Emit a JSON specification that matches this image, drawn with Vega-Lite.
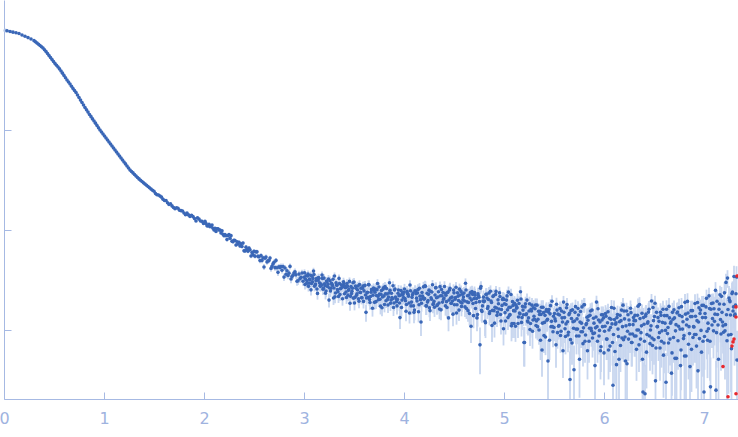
{
"$schema":"https://vega.github.io/schema/vega-lite/v6.json",
"width":734,"height":399,"autosize":"none",
"padding":{"left":4,"top":0,"right":0,"bottom":38},
"config":{"view":{"stroke":null},"axis":{"grid":false,"domainColor":"#a6b9e3","tickColor":"#a6b9e3","labelColor":"#9fb3df","labelFont":"DejaVu Sans","labelFontSize":16,"tickSize":-7}},
"datasets":{
"d":[
{"q":0.03,"i":982,"e":4},{"q":0.06,"i":966,"e":4},{"q":0.09,"i":951,"e":4},{"q":0.12,"i":938,"e":4},{"q":0.15,"i":923,"e":4},{"q":0.18,"i":891,"e":4},{"q":0.21,"i":865,"e":3},{"q":0.24,"i":839,"e":3},{"q":0.27,"i":813,"e":3},{"q":0.30,"i":782,"e":3},
{"q":0.315,"i":761,"e":3},{"q":0.33,"i":741,"e":3},{"q":0.345,"i":720,"e":3},{"q":0.36,"i":700,"e":3},{"q":0.375,"i":680,"e":3},{"q":0.39,"i":661,"e":3},{"q":0.405,"i":635,"e":3},{"q":0.42,"i":610,"e":2},{"q":0.435,"i":582,"e":2},{"q":0.45,"i":556,"e":2},
{"q":0.465,"i":531,"e":2},{"q":0.48,"i":507,"e":2},{"q":0.495,"i":484,"e":2},{"q":0.51,"i":462,"e":2},{"q":0.525,"i":444,"e":2},{"q":0.54,"i":427,"e":2},{"q":0.555,"i":408,"e":2},{"q":0.57,"i":389,"e":2},{"q":0.585,"i":370,"e":1.5},{"q":0.60,"i":351,"e":1.4},
{"q":0.615,"i":333,"e":1.3},{"q":0.63,"i":316,"e":1.3},{"q":0.645,"i":302,"e":1.2},{"q":0.66,"i":288,"e":1.2},{"q":0.675,"i":274,"e":1.1},{"q":0.69,"i":260,"e":1},{"q":0.705,"i":248,"e":1},{"q":0.72,"i":237,"e":1},{"q":0.735,"i":224,"e":0.9},{"q":0.75,"i":211,"e":0.8},
{"q":0.765,"i":199,"e":0.8},{"q":0.78,"i":188,"e":0.8},{"q":0.795,"i":178,"e":0.7},{"q":0.81,"i":168,"e":0.7},{"q":0.825,"i":159,"e":0.6},{"q":0.84,"i":151,"e":0.6},{"q":0.855,"i":143,"e":0.6},{"q":0.87,"i":136,"e":0.5},{"q":0.885,"i":129,"e":0.5},{"q":0.90,"i":123,"e":0.5},
{"q":0.915,"i":117,"e":0.5},{"q":0.93,"i":111,"e":0.4},{"q":0.945,"i":105,"e":0.4},{"q":0.96,"i":100,"e":0.4},{"q":0.975,"i":95.5,"e":0.4},{"q":0.99,"i":91.2,"e":0.4},{"q":1.005,"i":87.1,"e":0.9},{"q":1.02,"i":83.2,"e":0.8},{"q":1.035,"i":79.5,"e":0.8},{"q":1.05,"i":75.9,"e":0.8},
{"q":1.065,"i":72.5,"e":0.7},{"q":1.08,"i":69.2,"e":0.7},{"q":1.095,"i":66.1,"e":0.7},{"q":1.11,"i":63.1,"e":0.6},{"q":1.125,"i":60.2,"e":0.6},{"q":1.14,"i":57.5,"e":0.6},{"q":1.155,"i":54.9,"e":0.5},{"q":1.17,"i":52.5,"e":0.5},{"q":1.185,"i":50.1,"e":0.5},{"q":1.20,"i":47.9,"e":0.5},
{"q":1.215,"i":45.8,"e":0.5},{"q":1.23,"i":43.7,"e":0.4},{"q":1.245,"i":41.7,"e":0.4},{"q":1.26,"i":39.8,"e":0.4},{"q":1.275,"i":38.5,"e":0.4},{"q":1.29,"i":37.2,"e":0.4},{"q":1.305,"i":35.9,"e":0.4},{"q":1.32,"i":34.7,"e":0.3},{"q":1.335,"i":33.5,"e":0.3},{"q":1.35,"i":32.4,"e":0.3},
{"q":1.365,"i":31.4,"e":0.3},{"q":1.38,"i":30.5,"e":0.3},{"q":1.395,"i":29.6,"e":0.3},{"q":1.41,"i":28.8,"e":0.3},{"q":1.425,"i":28.0,"e":0.3},{"q":1.44,"i":27.2,"e":0.3},{"q":1.455,"i":26.4,"e":0.3},{"q":1.47,"i":25.7,"e":0.3},{"q":1.485,"i":25.0,"e":0.3},
{"q":1.50,"i":24.4,"e":0.5},{"q":1.53,"i":22.5,"e":0.45},{"q":1.56,"i":21.9,"e":0.44},{"q":1.59,"i":20.3,"e":0.4},{"q":1.62,"i":19.7,"e":0.4},{"q":1.65,"i":18.0,"e":0.36},{"q":1.68,"i":17.4,"e":0.35},{"q":1.71,"i":16.3,"e":0.33},{"q":1.74,"i":16.5,"e":0.33},{"q":1.77,"i":15.6,"e":0.31},
{"q":1.80,"i":14.8,"e":0.3},{"q":1.83,"i":14.8,"e":0.3},{"q":1.86,"i":13.65,"e":0.27},{"q":1.89,"i":13.6,"e":0.27},{"q":1.92,"i":12.3,"e":0.25},{"q":1.95,"i":12.85,"e":0.26},{"q":1.98,"i":12.2,"e":0.24},
{"q":1.515,"i":23.1,"e":0.46},{"q":1.545,"i":22.4,"e":0.45},{"q":1.575,"i":21.3,"e":0.42},{"q":1.605,"i":19.7,"e":0.4},{"q":1.635,"i":18.7,"e":0.37},{"q":1.665,"i":18.3,"e":0.36},{"q":1.695,"i":16.8,"e":0.34},{"q":1.725,"i":16.7,"e":0.33},{"q":1.755,"i":15.75,"e":0.32},{"q":1.785,"i":15.5,"e":0.31},
{"q":1.815,"i":14.2,"e":0.3},{"q":1.845,"i":14.15,"e":0.3},{"q":1.875,"i":14.0,"e":0.28},{"q":1.905,"i":13.0,"e":0.27},{"q":1.935,"i":13.2,"e":0.26},{"q":1.965,"i":12.3,"e":0.25},{"q":1.995,"i":11.6,"e":0.25},
{"q":2.01,"i":12.2,"e":0.3},{"q":2.04,"i":11.0,"e":0.3},{"q":2.07,"i":10.9,"e":0.3},{"q":2.10,"i":9.99,"e":0.3},{"q":2.13,"i":10.3,"e":0.3},{"q":2.16,"i":10.0,"e":0.3},{"q":2.19,"i":9.04,"e":0.3},{"q":2.22,"i":8.75,"e":0.3},{"q":2.25,"i":9.0,"e":0.3},{"q":2.28,"i":7.73,"e":0.3},
{"q":2.31,"i":7.86,"e":0.3},{"q":2.34,"i":7.23,"e":0.3},{"q":2.37,"i":7.29,"e":0.3},{"q":2.40,"i":6.20,"e":0.3},{"q":2.43,"i":6.38,"e":0.3},{"q":2.46,"i":6.35,"e":0.3},{"q":2.49,"i":5.65,"e":0.3},{"q":2.52,"i":6.04,"e":0.3},{"q":2.55,"i":5.40,"e":0.3},{"q":2.58,"i":4.96,"e":0.3},
{"q":2.61,"i":5.21,"e":0.3},{"q":2.64,"i":4.92,"e":0.3},{"q":2.67,"i":4.13,"e":0.3},{"q":2.70,"i":4.76,"e":0.3},{"q":2.73,"i":4.19,"e":0.3},{"q":2.76,"i":4.22,"e":0.3},{"q":2.79,"i":4.31,"e":0.3},{"q":2.82,"i":3.61,"e":0.3},{"q":2.85,"i":3.70,"e":0.3},{"q":2.88,"i":3.42,"e":0.3},
{"q":2.91,"i":3.81,"e":0.3},{"q":2.94,"i":3.11,"e":0.3},{"q":2.97,"i":3.36,"e":0.3},
{"q":2.02,"i":11.6,"e":0.3},{"q":2.03,"i":11.0,"e":0.3},{"q":2.05,"i":11.4,"e":0.3},{"q":2.06,"i":10.8,"e":0.3},{"q":2.08,"i":11.2,"e":0.3},{"q":2.09,"i":10.4,"e":0.3},{"q":2.11,"i":10.4,"e":0.3},{"q":2.12,"i":9.65,"e":0.3},{"q":2.14,"i":10.3,"e":0.3},{"q":2.15,"i":10.0,"e":0.3},
{"q":2.17,"i":9.35,"e":0.3},{"q":2.18,"i":9.80,"e":0.3},{"q":2.20,"i":8.77,"e":0.3},{"q":2.21,"i":9.01,"e":0.3},{"q":2.23,"i":8.01,"e":0.3},{"q":2.24,"i":8.78,"e":0.3},{"q":2.26,"i":8.25,"e":0.3},{"q":2.27,"i":8.78,"e":0.3},{"q":2.29,"i":7.63,"e":0.3},{"q":2.30,"i":7.90,"e":0.3},
{"q":2.32,"i":7.08,"e":0.3},{"q":2.33,"i":7.61,"e":0.3},{"q":2.35,"i":7.54,"e":0.3},{"q":2.36,"i":6.92,"e":0.3},{"q":2.38,"i":6.83,"e":0.3},{"q":2.39,"i":7.39,"e":0.3},{"q":2.41,"i":6.18,"e":0.3},{"q":2.42,"i":6.73,"e":0.3},{"q":2.44,"i":6.14,"e":0.3},{"q":2.45,"i":6.60,"e":0.3},
{"q":2.47,"i":5.50,"e":0.3},{"q":2.48,"i":5.96,"e":0.3},{"q":2.50,"i":6.11,"e":0.3},{"q":2.51,"i":5.47,"e":0.3},{"q":2.53,"i":6.04,"e":0.3},{"q":2.54,"i":5.45,"e":0.3},{"q":2.56,"i":4.94,"e":0.3},{"q":2.57,"i":5.55,"e":0.3},{"q":2.59,"i":5.27,"e":0.3},{"q":2.60,"i":4.27,"e":0.3},
{"q":2.62,"i":5.37,"e":0.3},{"q":2.63,"i":4.78,"e":0.3},{"q":2.65,"i":4.94,"e":0.3},{"q":2.66,"i":5.23,"e":0.3},{"q":2.68,"i":4.32,"e":0.3},{"q":2.69,"i":4.58,"e":0.3},{"q":2.71,"i":4.20,"e":0.3},{"q":2.72,"i":4.96,"e":0.3},{"q":2.74,"i":3.77,"e":0.3},{"q":2.75,"i":4.28,"e":0.3},
{"q":2.77,"i":4.31,"e":0.3},{"q":2.78,"i":3.96,"e":0.3},{"q":2.80,"i":3.38,"e":0.3},{"q":2.81,"i":4.16,"e":0.3},{"q":2.83,"i":3.91,"e":0.3},{"q":2.84,"i":3.51,"e":0.3},{"q":2.86,"i":4.32,"e":0.3},{"q":2.87,"i":3.23,"e":0.3},{"q":2.89,"i":3.53,"e":0.3},{"q":2.90,"i":3.71,"e":0.3},
{"q":2.92,"i":3.56,"e":0.3},{"q":2.93,"i":3.07,"e":0.3},{"q":2.95,"i":3.62,"e":0.3},{"q":2.96,"i":3.25,"e":0.3},{"q":2.98,"i":3.71,"e":0.3},{"q":2.99,"i":3.07,"e":0.3},
{"q":3.00,"i":3.37,"e":0.31},{"q":3.01,"i":2.85,"e":0.31},{"q":3.02,"i":3.48,"e":0.31},{"q":3.03,"i":3.10,"e":0.31},{"q":3.04,"i":3.63,"e":0.31},{"q":3.05,"i":2.93,"e":0.31},{"q":3.06,"i":3.16,"e":0.31},{"q":3.07,"i":2.52,"e":0.31},{"q":3.08,"i":3.44,"e":0.31},{"q":3.09,"i":3.27,"e":0.31},
{"q":3.10,"i":3.59,"e":0.31},{"q":3.11,"i":2.80,"e":0.31},{"q":3.12,"i":3.12,"e":0.31},{"q":3.13,"i":2.57,"e":0.31},{"q":3.14,"i":3.15,"e":0.31},{"q":3.15,"i":3.29,"e":0.31},{"q":3.16,"i":2.77,"e":0.31},{"q":3.17,"i":2.88,"e":0.31},{"q":3.18,"i":3.54,"e":0.31},{"q":3.19,"i":2.55,"e":0.31},
{"q":3.20,"i":3.30,"e":0.31},{"q":3.21,"i":2.77,"e":0.31},{"q":3.22,"i":2.45,"e":0.31},{"q":3.23,"i":3.01,"e":0.31},{"q":3.24,"i":2.87,"e":0.31},{"q":3.25,"i":1.99,"e":0.31},{"q":3.26,"i":3.11,"e":0.31},{"q":3.27,"i":2.61,"e":0.31},{"q":3.28,"i":2.85,"e":0.31},{"q":3.29,"i":3.21,"e":0.31},
{"q":3.30,"i":2.63,"e":0.3},{"q":3.31,"i":2.15,"e":0.3},{"q":3.32,"i":2.96,"e":0.3},{"q":3.33,"i":2.80,"e":0.3},{"q":3.34,"i":2.41,"e":0.3},{"q":3.35,"i":3.28,"e":0.3},{"q":3.36,"i":2.26,"e":0.3},{"q":3.37,"i":2.61,"e":0.3},{"q":3.38,"i":2.80,"e":0.3},{"q":3.39,"i":2.70,"e":0.3},
{"q":3.40,"i":2.90,"e":0.29},{"q":3.41,"i":2.74,"e":0.29},{"q":3.42,"i":2.40,"e":0.29},{"q":3.43,"i":2.92,"e":0.29},{"q":3.44,"i":2.23,"e":0.29},{"q":3.45,"i":2.57,"e":0.29},{"q":3.46,"i":1.85,"e":0.29},{"q":3.47,"i":2.72,"e":0.29},{"q":3.48,"i":2.44,"e":0.29},{"q":3.49,"i":2.97,"e":0.29},
{"q":3.50,"i":3.02,"e":0.29},{"q":3.51,"i":2.12,"e":0.29},{"q":3.52,"i":2.62,"e":0.29},{"q":3.53,"i":2.30,"e":0.29},{"q":3.54,"i":2.75,"e":0.29},{"q":3.55,"i":1.94,"e":0.29},{"q":3.56,"i":2.38,"e":0.29},{"q":3.57,"i":2.62,"e":0.29},{"q":3.58,"i":2.10,"e":0.29},{"q":3.59,"i":2.75,"e":0.29},
{"q":3.60,"i":2.46,"e":0.29},{"q":3.61,"i":2.79,"e":0.29},{"q":3.62,"i":1.50,"e":0.29},{"q":3.63,"i":2.35,"e":0.29},{"q":3.64,"i":2.12,"e":0.29},{"q":3.65,"i":2.83,"e":0.29},{"q":3.66,"i":1.88,"e":0.29},{"q":3.67,"i":2.39,"e":0.29},{"q":3.68,"i":2.52,"e":0.29},{"q":3.69,"i":2.23,"e":0.29},
{"q":3.70,"i":2.49,"e":0.3},{"q":3.71,"i":2.39,"e":0.3},{"q":3.72,"i":1.92,"e":0.3},{"q":3.73,"i":2.53,"e":0.3},{"q":3.74,"i":2.17,"e":0.3},{"q":3.75,"i":2.69,"e":0.3},{"q":3.76,"i":2.03,"e":0.3},{"q":3.77,"i":2.27,"e":0.3},{"q":3.78,"i":1.67,"e":0.3},{"q":3.79,"i":2.55,"e":0.3},
{"q":3.80,"i":2.19,"e":0.3},{"q":3.81,"i":2.72,"e":0.3},{"q":3.82,"i":1.96,"e":0.3},{"q":3.83,"i":2.29,"e":0.3},{"q":3.84,"i":1.78,"e":0.3},{"q":3.85,"i":2.34,"e":0.3},{"q":3.86,"i":2.49,"e":0.3},{"q":3.87,"i":1.99,"e":0.3},{"q":3.88,"i":2.11,"e":0.3},{"q":3.89,"i":2.77,"e":0.3},
{"q":3.90,"i":1.86,"e":0.31},{"q":3.91,"i":2.57,"e":0.31},{"q":3.92,"i":2.05,"e":0.31},{"q":3.93,"i":1.74,"e":0.31},{"q":3.94,"i":2.33,"e":0.31},{"q":3.95,"i":2.20,"e":0.31},{"q":3.96,"i":1.33,"e":0.31},{"q":3.97,"i":2.48,"e":0.31},{"q":3.98,"i":1.99,"e":0.31},{"q":3.99,"i":2.26,"e":0.31},
{"q":4.00,"i":2.38,"e":0.32},{"q":4.01,"i":2.06,"e":0.32},{"q":4.02,"i":1.54,"e":0.32},{"q":4.03,"i":2.44,"e":0.32},{"q":4.04,"i":2.28,"e":0.32},{"q":4.05,"i":1.86,"e":0.32},{"q":4.06,"i":2.82,"e":0.32},{"q":4.07,"i":1.74,"e":0.32},{"q":4.08,"i":2.12,"e":0.32},{"q":4.09,"i":2.34,"e":0.32},
{"q":4.10,"i":1.50,"e":0.33},{"q":4.11,"i":2.47,"e":0.33},{"q":4.12,"i":2.30,"e":0.33},{"q":4.13,"i":1.95,"e":0.33},{"q":4.14,"i":2.53,"e":0.33},{"q":4.15,"i":1.79,"e":0.33},{"q":4.16,"i":2.18,"e":0.33},{"q":4.17,"i":1.20,"e":0.33},{"q":4.18,"i":2.37,"e":0.33},{"q":4.19,"i":2.08,"e":0.33},
{"q":4.20,"i":2.03,"e":0.33},{"q":4.21,"i":2.77,"e":0.33},{"q":4.22,"i":1.74,"e":0.33},{"q":4.23,"i":2.33,"e":0.33},{"q":4.24,"i":1.97,"e":0.33},{"q":4.25,"i":2.50,"e":0.33},{"q":4.26,"i":1.56,"e":0.33},{"q":4.27,"i":2.10,"e":0.33},{"q":4.28,"i":2.40,"e":0.33},{"q":4.29,"i":1.80,"e":0.33},
{"q":4.30,"i":1.93,"e":0.34},{"q":4.31,"i":2.24,"e":0.34},{"q":4.32,"i":2.65,"e":0.34},{"q":4.33,"i":1.76,"e":0.34},{"q":4.34,"i":2.14,"e":0.34},{"q":4.35,"i":1.86,"e":0.34},{"q":4.36,"i":2.71,"e":0.34},{"q":4.37,"i":1.59,"e":0.34},{"q":4.38,"i":2.20,"e":0.34},{"q":4.39,"i":2.37,"e":0.34},
{"q":4.40,"i":2.09,"e":0.35},{"q":4.41,"i":2.33,"e":0.35},{"q":4.42,"i":2.23,"e":0.35},{"q":4.43,"i":1.68,"e":0.35},{"q":4.44,"i":2.40,"e":0.35},{"q":4.45,"i":1.99,"e":0.35},{"q":4.46,"i":2.61,"e":0.35},{"q":4.47,"i":1.85,"e":0.35},{"q":4.48,"i":2.13,"e":0.35},{"q":4.49,"i":1.44,"e":0.35},
{"q":4.50,"i":2.35,"e":0.35},{"q":4.51,"i":2.03,"e":0.35},{"q":4.52,"i":2.67,"e":0.35},{"q":4.53,"i":1.79,"e":0.35},{"q":4.54,"i":2.18,"e":0.35},{"q":4.55,"i":1.58,"e":0.35},{"q":4.56,"i":2.24,"e":0.35},{"q":4.57,"i":2.43,"e":0.35},{"q":4.58,"i":1.86,"e":0.35},{"q":4.59,"i":2.00,"e":0.35},
{"q":4.60,"i":2.34,"e":0.35},{"q":4.61,"i":1.70,"e":0.35},{"q":4.62,"i":2.51,"e":0.35},{"q":4.63,"i":1.91,"e":0.35},{"q":4.64,"i":1.56,"e":0.35},{"q":4.65,"i":2.24,"e":0.35},{"q":4.66,"i":2.09,"e":0.35},{"q":4.67,"i":1.09,"e":0.35},{"q":4.68,"i":2.42,"e":0.35},{"q":4.69,"i":1.84,"e":0.35},
{"q":4.70,"i":2.06,"e":0.35},{"q":4.71,"i":2.23,"e":0.35},{"q":4.72,"i":1.88,"e":0.35},{"q":4.73,"i":1.32,"e":0.35},{"q":4.74,"i":2.30,"e":0.35},{"q":4.75,"i":2.13,"e":0.35},{"q":4.76,"i":0.71,"e":0.35},{"q":4.77,"i":2.72,"e":0.35},{"q":4.78,"i":1.53,"e":0.35},{"q":4.79,"i":1.95,"e":0.35},
{"q":4.80,"i":1.92,"e":0.35},{"q":4.81,"i":1.22,"e":0.35},{"q":4.82,"i":2.27,"e":0.35},{"q":4.83,"i":2.09,"e":0.35},{"q":4.84,"i":1.71,"e":0.35},{"q":4.85,"i":2.34,"e":0.35},{"q":4.86,"i":1.53,"e":0.35},{"q":4.87,"i":1.95,"e":0.35},{"q":4.88,"i":1.11,"e":0.35},{"q":4.89,"i":2.16,"e":0.35},
{"q":4.90,"i":1.56,"e":0.33},{"q":4.91,"i":1.69,"e":0.33},{"q":4.92,"i":2.43,"e":0.33},{"q":4.93,"i":1.40,"e":0.33},{"q":4.94,"i":2.00,"e":0.33},{"q":4.95,"i":1.62,"e":0.33},{"q":4.96,"i":2.16,"e":0.33},{"q":4.97,"i":1.23,"e":0.33},{"q":4.98,"i":1.76,"e":0.33},{"q":4.99,"i":2.07,"e":0.33},
{"q":5.00,"i":2.02,"e":0.33},{"q":5.01,"i":1.49,"e":0.33},{"q":5.02,"i":1.80,"e":0.33},{"q":5.03,"i":2.19,"e":0.33},{"q":5.04,"i":1.33,"e":0.33},{"q":5.05,"i":1.69,"e":0.33},{"q":5.06,"i":1.43,"e":0.33},{"q":5.07,"i":2.26,"e":0.33},{"q":5.08,"i":1.16,"e":0.33},{"q":5.09,"i":1.76,"e":0.33},
{"q":5.10,"i":1.16,"e":0.33},{"q":5.11,"i":1.55,"e":0.33},{"q":5.12,"i":1.77,"e":0.33},{"q":5.13,"i":1.68,"e":0.33},{"q":5.14,"i":1.16,"e":0.33},{"q":5.15,"i":1.84,"e":0.33},{"q":5.16,"i":1.45,"e":0.33},{"q":5.17,"i":2.04,"e":0.33},{"q":5.18,"i":1.33,"e":0.33},{"q":5.19,"i":1.58,"e":0.33},
{"q":5.20,"i":0.75,"e":0.32},{"q":5.21,"i":1.70,"e":0.32},{"q":5.22,"i":1.42,"e":0.32},{"q":5.23,"i":1.99,"e":0.32},{"q":5.24,"i":1.20,"e":0.32},{"q":5.25,"i":1.55,"e":0.32},{"q":5.26,"i":1.01,"e":0.32},{"q":5.27,"i":1.61,"e":0.32},{"q":5.28,"i":1.77,"e":0.32},{"q":5.29,"i":1.26,"e":0.32},
{"q":5.30,"i":1.37,"e":0.29},{"q":5.31,"i":1.63,"e":0.29},{"q":5.32,"i":1.11,"e":0.29},{"q":5.33,"i":1.77,"e":0.29},{"q":5.34,"i":1.28,"e":0.29},{"q":5.35,"i":1.00,"e":0.29},{"q":5.36,"i":1.54,"e":0.29},{"q":5.37,"i":1.43,"e":0.29},{"q":5.38,"i":0.63,"e":0.29},{"q":5.39,"i":1.69,"e":0.29},
{"q":5.40,"i":0.88,"e":0.29},{"q":5.41,"i":1.40,"e":0.29},{"q":5.42,"i":1.54,"e":0.29},{"q":5.43,"i":1.25,"e":0.29},{"q":5.44,"i":0.49,"e":0.29},{"q":5.45,"i":1.60,"e":0.29},{"q":5.46,"i":1.45,"e":0.29},{"q":5.47,"i":1.08,"e":0.29},{"q":5.48,"i":1.94,"e":0.29},{"q":5.49,"i":0.96,"e":0.29},
{"q":5.50,"i":1.06,"e":0.29},{"q":5.51,"i":1.29,"e":0.29},{"q":5.52,"i":0.71,"e":0.29},{"q":5.53,"i":1.58,"e":0.29},{"q":5.54,"i":1.44,"e":0.29},{"q":5.55,"i":1.11,"e":0.29},{"q":5.56,"i":1.64,"e":0.29},{"q":5.57,"i":0.97,"e":0.29},{"q":5.58,"i":1.32,"e":0.29},{"q":5.59,"i":0.62,"e":0.29},
{"q":5.60,"i":1.50,"e":0.29},{"q":5.61,"i":1.03,"e":0.29},{"q":5.62,"i":1.15,"e":0.29},{"q":5.63,"i":1.80,"e":0.29},{"q":5.64,"i":0.89,"e":0.29},{"q":5.65,"i":1.42,"e":0.29},{"q":5.66,"i":0.32,"e":0.29},{"q":5.67,"i":1.56,"e":0.29},{"q":5.68,"i":0.74,"e":0.29},{"q":5.69,"i":1.21,"e":0.29},
{"q":5.70,"i":0.40,"e":0.3},{"q":5.71,"i":1.50,"e":0.3},{"q":5.72,"i":1.02,"e":0.3},{"q":5.73,"i":1.29,"e":0.3},{"q":5.74,"i":1.64,"e":0.3},{"q":5.75,"i":0.87,"e":0.3},{"q":5.76,"i":1.20,"e":0.3},{"q":5.77,"i":0.96,"e":0.3},{"q":5.78,"i":1.70,"e":0.3},{"q":5.79,"i":0.73,"e":0.3},
{"q":5.80,"i":1.79,"e":0.3},{"q":5.81,"i":0.77,"e":0.3},{"q":5.82,"i":1.13,"e":0.3},{"q":5.83,"i":1.34,"e":0.3},{"q":5.84,"i":1.25,"e":0.3},{"q":5.85,"i":0.77,"e":0.3},{"q":5.86,"i":1.40,"e":0.3},{"q":5.87,"i":1.04,"e":0.3},{"q":5.88,"i":1.58,"e":0.3},{"q":5.89,"i":0.92,"e":0.3},
{"q":5.90,"i":1.17,"e":0.3},{"q":5.91,"i":0.44,"e":0.3},{"q":5.92,"i":1.35,"e":0.3},{"q":5.93,"i":1.08,"e":0.3},{"q":5.94,"i":1.63,"e":0.3},{"q":5.95,"i":0.87,"e":0.3},{"q":5.96,"i":1.20,"e":0.3},{"q":5.97,"i":0.68,"e":0.3},{"q":5.98,"i":1.26,"e":0.3},{"q":5.99,"i":1.42,"e":0.3},
{"q":6.00,"i":0.59,"e":0.31},{"q":6.01,"i":1.09,"e":0.31},{"q":6.02,"i":1.37,"e":0.31},{"q":6.03,"i":0.81,"e":0.31},{"q":6.04,"i":1.52,"e":0.31},{"q":6.05,"i":1.00,"e":0.31},{"q":6.06,"i":0.69,"e":0.31},{"q":6.07,"i":1.28,"e":0.31},{"q":6.08,"i":1.15,"e":0.31},{"q":6.09,"i":0.28,"e":0.27},
{"q":6.10,"i":1.65,"e":0.32},{"q":6.11,"i":0.61,"e":0.32},{"q":6.12,"i":1.18,"e":0.32},{"q":6.13,"i":1.33,"e":0.32},{"q":6.14,"i":1.02,"e":0.32},{"q":6.15,"i":0.51,"e":0.32},{"q":6.16,"i":1.40,"e":0.32},{"q":6.17,"i":1.24,"e":0.32},{"q":6.18,"i":0.83,"e":0.32},{"q":6.19,"i":1.77,"e":0.32},
{"q":6.20,"i":1.55,"e":0.32},{"q":6.21,"i":0.85,"e":0.32},{"q":6.22,"i":1.10,"e":0.32},{"q":6.23,"i":0.46,"e":0.32},{"q":6.24,"i":1.42,"e":0.32},{"q":6.25,"i":1.26,"e":0.32},{"q":6.26,"i":0.91,"e":0.32},{"q":6.27,"i":1.49,"e":0.32},{"q":6.28,"i":0.75,"e":0.32},{"q":6.29,"i":1.13,"e":0.32},
{"q":6.30,"i":1.24,"e":0.33},{"q":6.31,"i":1.40,"e":0.33},{"q":6.32,"i":0.87,"e":0.33},{"q":6.33,"i":1.00,"e":0.33},{"q":6.34,"i":1.73,"e":0.33},{"q":6.35,"i":0.71,"e":0.33},{"q":6.36,"i":1.30,"e":0.33},{"q":6.37,"i":0.94,"e":0.33},{"q":6.38,"i":1.47,"e":0.33},{"q":6.39,"i":0.24,"e":0.23},
{"q":6.40,"i":1.14,"e":0.34},{"q":6.41,"i":0.23,"e":0.22},{"q":6.42,"i":1.44,"e":0.34},{"q":6.43,"i":0.90,"e":0.34},{"q":6.44,"i":1.21,"e":0.34},{"q":6.45,"i":1.61,"e":0.34},{"q":6.46,"i":0.73,"e":0.34},{"q":6.47,"i":1.10,"e":0.34},{"q":6.48,"i":0.83,"e":0.34},{"q":6.49,"i":1.68,"e":0.34},
{"q":6.50,"i":0.80,"e":0.35},{"q":6.51,"i":1.85,"e":0.35},{"q":6.52,"i":0.66,"e":0.35},{"q":6.53,"i":1.08,"e":0.35},{"q":6.54,"i":1.33,"e":0.35},{"q":6.55,"i":1.22,"e":0.35},{"q":6.56,"i":0.66,"e":0.35},{"q":6.57,"i":1.40,"e":0.35},{"q":6.58,"i":0.98,"e":0.35},{"q":6.59,"i":1.61,"e":0.35},
{"q":6.60,"i":0.74,"e":0.37},{"q":6.61,"i":1.17,"e":0.37},{"q":6.62,"i":0.30,"e":0.29},{"q":6.63,"i":1.39,"e":0.37},{"q":6.64,"i":1.06,"e":0.37},{"q":6.65,"i":1.72,"e":0.37},{"q":6.66,"i":0.81,"e":0.37},{"q":6.67,"i":1.21,"e":0.37},{"q":6.68,"i":0.59,"e":0.37},{"q":6.69,"i":1.28,"e":0.37},
{"q":6.70,"i":1.59,"e":0.38},{"q":6.71,"i":0.52,"e":0.38},{"q":6.72,"i":1.13,"e":0.38},{"q":6.73,"i":1.48,"e":0.38},{"q":6.74,"i":0.78,"e":0.38},{"q":6.75,"i":1.67,"e":0.38},{"q":6.76,"i":1.02,"e":0.38},{"q":6.77,"i":0.63,"e":0.38},{"q":6.78,"i":1.36,"e":0.38},{"q":6.79,"i":1.21,"e":0.38},
{"q":6.80,"i":0.88,"e":0.4},{"q":6.81,"i":1.89,"e":0.4},{"q":6.82,"i":0.55,"e":0.4},{"q":6.83,"i":1.28,"e":0.4},{"q":6.84,"i":1.48,"e":0.4},{"q":6.85,"i":1.08,"e":0.4},{"q":6.86,"i":0.43,"e":0.4},{"q":6.87,"i":1.56,"e":0.4},{"q":6.88,"i":1.36,"e":0.4},{"q":6.89,"i":0.84,"e":0.4},
{"q":6.90,"i":1.07,"e":0.43},{"q":6.91,"i":1.84,"e":0.43},{"q":6.92,"i":0.90,"e":0.43},{"q":6.93,"i":1.24,"e":0.43},{"q":6.94,"i":0.39,"e":0.37},{"q":6.95,"i":1.67,"e":0.43},{"q":6.96,"i":1.46,"e":0.43},{"q":6.97,"i":0.99,"e":0.43},{"q":6.98,"i":1.76,"e":0.43},{"q":6.99,"i":0.77,"e":0.43},
{"q":7.00,"i":0.24,"e":0.23},{"q":7.01,"i":1.46,"e":0.46},{"q":7.02,"i":1.70,"e":0.46},{"q":7.03,"i":0.97,"e":0.46},{"q":7.04,"i":1.17,"e":0.46},{"q":7.05,"i":2.19,"e":0.46},{"q":7.06,"i":0.77,"e":0.46},{"q":7.07,"i":1.61,"e":0.46},{"q":7.08,"i":1.12,"e":0.46},{"q":7.09,"i":1.86,"e":0.46},
{"q":7.10,"i":1.63,"e":0.52},{"q":7.11,"i":1.44,"e":0.52},{"q":7.12,"i":0.25,"e":0.24},{"q":7.13,"i":1.94,"e":0.52},{"q":7.14,"i":1.12,"e":0.52},{"q":7.15,"i":1.61,"e":0.52},{"q":7.16,"i":2.25,"e":0.52},{"q":7.17,"i":0.91,"e":0.52},{"q":7.18,"i":1.50,"e":0.52},{"q":7.19,"i":1.10,"e":0.52},
{"q":7.20,"i":1.81,"e":0.66},{"q":7.21,"i":0.98,"e":0.66},{"q":7.22,"i":2.99,"e":0.66},{"q":7.23,"i":0.78,"e":0.66},{"q":7.24,"i":1.60,"e":0.66},{"q":7.25,"i":2.09,"e":0.66},{"q":7.26,"i":1.92,"e":0.66},{"q":7.27,"i":0.90,"e":0.66},{"q":7.28,"i":2.31,"e":0.66},{"q":7.29,"i":1.55,"e":0.66},
{"q":7.30,"i":3.43,"e":0.95},{"q":7.31,"i":1.44,"e":0.95},{"q":7.32,"i":2.30,"e":0.95},{"q":7.33,"i":0.50,"e":0.48},
{"q":3.005,"i":3.73,"e":0.31},{"q":3.015,"i":3.21,"e":0.31},{"q":3.025,"i":2.92,"e":0.31},{"q":3.035,"i":3.46,"e":0.31},{"q":3.045,"i":2.73,"e":0.31},{"q":3.055,"i":3.23,"e":0.31},{"q":3.065,"i":3.53,"e":0.31},{"q":3.075,"i":2.92,"e":0.31},{"q":3.085,"i":3.03,"e":0.31},{"q":3.095,"i":3.88,"e":0.31},
{"q":3.105,"i":2.74,"e":0.31},{"q":3.115,"i":2.88,"e":0.31},{"q":3.125,"i":3.26,"e":0.31},{"q":3.135,"i":2.32,"e":0.31},{"q":3.145,"i":3.35,"e":0.31},{"q":3.155,"i":2.96,"e":0.31},{"q":3.165,"i":2.73,"e":0.31},{"q":3.175,"i":2.80,"e":0.31},{"q":3.185,"i":3.28,"e":0.31},{"q":3.195,"i":2.61,"e":0.31},
{"q":3.205,"i":2.90,"e":0.31},{"q":3.215,"i":2.33,"e":0.31},{"q":3.225,"i":3.08,"e":0.31},{"q":3.235,"i":2.72,"e":0.31},{"q":3.245,"i":3.23,"e":0.31},{"q":3.255,"i":2.63,"e":0.31},{"q":3.265,"i":2.45,"e":0.31},{"q":3.275,"i":2.93,"e":0.31},{"q":3.285,"i":2.79,"e":0.31},{"q":3.295,"i":2.09,"e":0.31},
{"q":3.305,"i":3.46,"e":0.3},{"q":3.315,"i":2.34,"e":0.3},{"q":3.325,"i":2.81,"e":0.3},{"q":3.335,"i":2.53,"e":0.3},{"q":3.345,"i":2.16,"e":0.3},{"q":3.355,"i":2.92,"e":0.3},{"q":3.365,"i":2.58,"e":0.3},{"q":3.375,"i":2.81,"e":0.3},{"q":3.385,"i":2.05,"e":0.3},{"q":3.395,"i":3.03,"e":0.3},
{"q":3.405,"i":2.30,"e":0.29},{"q":3.415,"i":2.64,"e":0.29},{"q":3.425,"i":2.11,"e":0.29},{"q":3.435,"i":2.73,"e":0.29},{"q":3.445,"i":2.49,"e":0.29},{"q":3.455,"i":3.06,"e":0.29},{"q":3.465,"i":2.17,"e":0.29},{"q":3.475,"i":2.31,"e":0.29},{"q":3.485,"i":2.61,"e":0.29},{"q":3.495,"i":2.08,"e":0.29},
{"q":3.505,"i":1.86,"e":0.29},{"q":3.515,"i":2.75,"e":0.29},{"q":3.525,"i":2.22,"e":0.29},{"q":3.535,"i":2.52,"e":0.29},{"q":3.545,"i":2.05,"e":0.29},{"q":3.555,"i":2.85,"e":0.29},{"q":3.565,"i":2.37,"e":0.29},{"q":3.575,"i":2.10,"e":0.29},{"q":3.585,"i":2.61,"e":0.29},{"q":3.595,"i":1.93,"e":0.29},
{"q":3.605,"i":2.77,"e":0.29},{"q":3.615,"i":2.24,"e":0.29},{"q":3.625,"i":2.09,"e":0.29},{"q":3.635,"i":2.38,"e":0.29},{"q":3.645,"i":2.84,"e":0.29},{"q":3.655,"i":2.02,"e":0.29},{"q":3.665,"i":2.16,"e":0.29},{"q":3.675,"i":2.53,"e":0.29},{"q":3.685,"i":1.65,"e":0.29},{"q":3.695,"i":2.63,"e":0.29},
{"q":3.705,"i":1.89,"e":0.3},{"q":3.715,"i":2.57,"e":0.3},{"q":3.725,"i":2.21,"e":0.3},{"q":3.735,"i":2.92,"e":0.3},{"q":3.745,"i":2.01,"e":0.3},{"q":3.755,"i":2.28,"e":0.3},{"q":3.765,"i":1.73,"e":0.3},{"q":3.775,"i":2.48,"e":0.3},{"q":3.785,"i":2.14,"e":0.3},{"q":3.795,"i":2.64,"e":0.3},
{"q":3.805,"i":1.80,"e":0.3},{"q":3.815,"i":2.30,"e":0.3},{"q":3.825,"i":2.60,"e":0.3},{"q":3.835,"i":2.02,"e":0.3},{"q":3.845,"i":2.13,"e":0.3},{"q":3.855,"i":2.97,"e":0.3},{"q":3.865,"i":1.85,"e":0.3},{"q":3.875,"i":2.33,"e":0.3},{"q":3.885,"i":2.05,"e":0.3},{"q":3.895,"i":1.68,"e":0.3},
{"q":3.905,"i":2.51,"e":0.31},{"q":3.915,"i":2.14,"e":0.31},{"q":3.925,"i":1.92,"e":0.31},{"q":3.935,"i":2.02,"e":0.31},{"q":3.945,"i":2.51,"e":0.31},{"q":3.955,"i":1.86,"e":0.31},{"q":3.965,"i":2.23,"e":0.31},{"q":3.975,"i":1.68,"e":0.31},{"q":3.985,"i":2.36,"e":0.31},{"q":3.995,"i":2.11,"e":0.31},
{"q":4.005,"i":2.57,"e":0.32},{"q":4.015,"i":1.96,"e":0.32},{"q":4.025,"i":1.80,"e":0.32},{"q":4.035,"i":2.31,"e":0.32},{"q":4.045,"i":2.18,"e":0.32},{"q":4.055,"i":1.48,"e":0.32},{"q":4.065,"i":2.47,"e":0.32},{"q":4.075,"i":1.90,"e":0.32},{"q":4.085,"i":2.25,"e":0.32},{"q":4.095,"i":1.74,"e":0.32},
{"q":4.105,"i":1.58,"e":0.33},{"q":4.115,"i":2.44,"e":0.33},{"q":4.125,"i":2.08,"e":0.33},{"q":4.135,"i":2.34,"e":0.33},{"q":4.145,"i":1.52,"e":0.33},{"q":4.155,"i":2.61,"e":0.33},{"q":4.165,"i":2.01,"e":0.33},{"q":4.175,"i":1.85,"e":0.33},{"q":4.185,"i":2.18,"e":0.33},{"q":4.195,"i":2.70,"e":0.33},
{"q":4.205,"i":2.07,"e":0.33},{"q":4.215,"i":2.73,"e":0.33},{"q":4.225,"i":1.74,"e":0.33},{"q":4.235,"i":1.90,"e":0.33},{"q":4.245,"i":2.27,"e":0.33},{"q":4.255,"i":1.67,"e":0.33},{"q":4.265,"i":2.43,"e":0.33},{"q":4.275,"i":2.03,"e":0.33},{"q":4.285,"i":2.83,"e":0.33},{"q":4.295,"i":1.84,"e":0.33},
{"q":4.305,"i":1.69,"e":0.34},{"q":4.315,"i":2.64,"e":0.34},{"q":4.325,"i":2.10,"e":0.34},{"q":4.335,"i":1.79,"e":0.34},{"q":4.345,"i":2.41,"e":0.34},{"q":4.355,"i":1.62,"e":0.34},{"q":4.365,"i":2.20,"e":0.34},{"q":4.375,"i":2.54,"e":0.34},{"q":4.385,"i":1.90,"e":0.34},{"q":4.395,"i":2.03,"e":0.34},
{"q":4.405,"i":2.72,"e":0.35},{"q":4.415,"i":1.74,"e":0.35},{"q":4.425,"i":1.92,"e":0.35},{"q":4.435,"i":2.37,"e":0.35},{"q":4.445,"i":1.32,"e":0.35},{"q":4.455,"i":2.51,"e":0.35},{"q":4.465,"i":2.09,"e":0.35},{"q":4.475,"i":1.85,"e":0.35},{"q":4.485,"i":1.95,"e":0.35},{"q":4.495,"i":2.51,"e":0.35},
{"q":4.505,"i":1.79,"e":0.35},{"q":4.515,"i":2.11,"e":0.35},{"q":4.525,"i":1.48,"e":0.35},{"q":4.535,"i":2.35,"e":0.35},{"q":4.545,"i":1.97,"e":0.35},{"q":4.555,"i":2.56,"e":0.35},{"q":4.565,"i":1.90,"e":0.35},{"q":4.575,"i":1.72,"e":0.35},{"q":4.585,"i":2.28,"e":0.35},{"q":4.595,"i":2.14,"e":0.35},
{"q":4.605,"i":1.95,"e":0.35},{"q":4.615,"i":2.93,"e":0.35},{"q":4.625,"i":1.64,"e":0.35},{"q":4.635,"i":2.20,"e":0.35},{"q":4.645,"i":1.88,"e":0.35},{"q":4.655,"i":1.46,"e":0.35},{"q":4.665,"i":2.37,"e":0.35},{"q":4.675,"i":1.99,"e":0.35},{"q":4.685,"i":2.27,"e":0.35},{"q":4.695,"i":1.39,"e":0.35},
{"q":4.705,"i":2.37,"e":0.35},{"q":4.715,"i":1.64,"e":0.35},{"q":4.725,"i":2.06,"e":0.35},{"q":4.735,"i":1.43,"e":0.35},{"q":4.745,"i":2.20,"e":0.35},{"q":4.755,"i":1.92,"e":0.35},{"q":4.765,"i":2.62,"e":0.35},{"q":4.775,"i":1.57,"e":0.35},{"q":4.785,"i":1.74,"e":0.35},{"q":4.795,"i":2.13,"e":0.35},
{"q":4.805,"i":1.95,"e":0.35},{"q":4.815,"i":1.18,"e":0.35},{"q":4.825,"i":2.27,"e":0.35},{"q":4.835,"i":1.64,"e":0.35},{"q":4.845,"i":2.02,"e":0.35},{"q":4.855,"i":1.46,"e":0.35},{"q":4.865,"i":2.44,"e":0.35},{"q":4.875,"i":1.88,"e":0.35},{"q":4.885,"i":1.57,"e":0.35},{"q":4.895,"i":2.20,"e":0.35},
{"q":4.905,"i":1.17,"e":0.33},{"q":4.915,"i":2.26,"e":0.33},{"q":4.925,"i":1.66,"e":0.33},{"q":4.935,"i":1.50,"e":0.33},{"q":4.945,"i":1.83,"e":0.33},{"q":4.955,"i":2.35,"e":0.33},{"q":4.965,"i":1.43,"e":0.33},{"q":4.975,"i":1.60,"e":0.33},{"q":4.985,"i":2.02,"e":0.33},{"q":4.995,"i":1.03,"e":0.33},
{"q":5.005,"i":1.83,"e":0.33},{"q":5.015,"i":1.23,"e":0.33},{"q":5.025,"i":1.99,"e":0.33},{"q":5.035,"i":1.59,"e":0.33},{"q":5.045,"i":2.39,"e":0.33},{"q":5.055,"i":1.40,"e":0.33},{"q":5.065,"i":1.69,"e":0.33},{"q":5.075,"i":1.10,"e":0.33},{"q":5.085,"i":1.92,"e":0.33},{"q":5.095,"i":1.56,"e":0.33},
{"q":5.105,"i":1.85,"e":0.33},{"q":5.115,"i":1.09,"e":0.33},{"q":5.125,"i":1.65,"e":0.33},{"q":5.135,"i":1.98,"e":0.33},{"q":5.145,"i":1.35,"e":0.33},{"q":5.155,"i":1.48,"e":0.33},{"q":5.165,"i":2.41,"e":0.33},{"q":5.175,"i":1.19,"e":0.33},{"q":5.185,"i":1.72,"e":0.33},{"q":5.195,"i":1.42,"e":0.33},
{"q":5.205,"i":0.75,"e":0.32},{"q":5.215,"i":1.83,"e":0.32},{"q":5.225,"i":1.45,"e":0.32},{"q":5.235,"i":1.23,"e":0.32},{"q":5.245,"i":1.32,"e":0.32},{"q":5.255,"i":1.83,"e":0.32},{"q":5.265,"i":1.16,"e":0.32},{"q":5.275,"i":1.55,"e":0.32},{"q":5.285,"i":0.97,"e":0.32},{"q":5.295,"i":1.67,"e":0.32},
{"q":5.305,"i":1.28,"e":0.29},{"q":5.315,"i":1.78,"e":0.29},{"q":5.325,"i":1.23,"e":0.29},{"q":5.335,"i":1.08,"e":0.29},{"q":5.345,"i":1.54,"e":0.29},{"q":5.355,"i":1.43,"e":0.29},{"q":5.365,"i":0.79,"e":0.29},{"q":5.375,"i":1.69,"e":0.29},{"q":5.385,"i":1.17,"e":0.29},{"q":5.395,"i":1.49,"e":0.29},
{"q":5.405,"i":1.19,"e":0.29},{"q":5.415,"i":0.85,"e":0.29},{"q":5.425,"i":1.60,"e":0.29},{"q":5.435,"i":1.28,"e":0.29},{"q":5.445,"i":1.51,"e":0.29},{"q":5.455,"i":0.79,"e":0.29},{"q":5.465,"i":1.75,"e":0.29},{"q":5.475,"i":1.22,"e":0.29},{"q":5.485,"i":1.08,"e":0.29},{"q":5.495,"i":1.37,"e":0.29},
{"q":5.505,"i":1.46,"e":0.29},{"q":5.515,"i":1.23,"e":0.29},{"q":5.525,"i":1.81,"e":0.29},{"q":5.535,"i":0.94,"e":0.29},{"q":5.545,"i":1.09,"e":0.29},{"q":5.555,"i":1.41,"e":0.29},{"q":5.565,"i":0.88,"e":0.29},{"q":5.575,"i":1.55,"e":0.29},{"q":5.585,"i":1.20,"e":0.29},{"q":5.595,"i":1.90,"e":0.29},
{"q":5.605,"i":1.33,"e":0.29},{"q":5.615,"i":0.86,"e":0.29},{"q":5.625,"i":1.67,"e":0.29},{"q":5.635,"i":1.21,"e":0.29},{"q":5.645,"i":0.95,"e":0.29},{"q":5.655,"i":1.47,"e":0.29},{"q":5.665,"i":0.80,"e":0.29},{"q":5.675,"i":1.30,"e":0.29},{"q":5.685,"i":1.59,"e":0.29},{"q":5.695,"i":1.04,"e":0.29},
{"q":5.705,"i":1.23,"e":0.3},{"q":5.715,"i":1.71,"e":0.3},{"q":5.725,"i":0.87,"e":0.3},{"q":5.735,"i":1.02,"e":0.3},{"q":5.745,"i":1.41,"e":0.3},{"q":5.755,"i":0.51,"e":0.3},{"q":5.765,"i":1.53,"e":0.3},{"q":5.775,"i":1.17,"e":0.3},{"q":5.785,"i":0.96,"e":0.3},{"q":5.795,"i":1.05,"e":0.3},
{"q":5.805,"i":1.79,"e":0.3},{"q":5.815,"i":0.89,"e":0.3},{"q":5.825,"i":1.16,"e":0.3},{"q":5.835,"i":0.62,"e":0.3},{"q":5.845,"i":1.37,"e":0.3},{"q":5.855,"i":1.04,"e":0.3},{"q":5.865,"i":1.55,"e":0.3},{"q":5.875,"i":0.98,"e":0.3},{"q":5.885,"i":0.83,"e":0.3},{"q":5.895,"i":1.31,"e":0.3},
{"q":5.905,"i":0.93,"e":0.3},{"q":5.915,"i":1.05,"e":0.3},{"q":5.925,"i":1.90,"e":0.3},{"q":5.935,"i":0.77,"e":0.3},{"q":5.945,"i":1.26,"e":0.3},{"q":5.955,"i":0.99,"e":0.3},{"q":5.965,"i":0.62,"e":0.3},{"q":5.975,"i":1.42,"e":0.3},{"q":5.985,"i":1.08,"e":0.3},{"q":5.995,"i":1.32,"e":0.3},
{"q":6.005,"i":0.97,"e":0.31},{"q":6.015,"i":1.46,"e":0.31},{"q":6.025,"i":0.81,"e":0.31},{"q":6.035,"i":1.18,"e":0.31},{"q":6.045,"i":0.63,"e":0.31},{"q":6.055,"i":1.31,"e":0.31},{"q":6.065,"i":1.06,"e":0.31},{"q":6.075,"i":1.68,"e":0.31},{"q":6.085,"i":0.75,"e":0.31},{"q":6.095,"i":0.90,"e":0.31},
{"q":6.105,"i":1.27,"e":0.32},{"q":6.115,"i":1.14,"e":0.32},{"q":6.125,"i":0.45,"e":0.32},{"q":6.135,"i":1.43,"e":0.32},{"q":6.145,"i":0.86,"e":0.32},{"q":6.155,"i":1.21,"e":0.32},{"q":6.165,"i":0.70,"e":0.32},{"q":6.175,"i":1.58,"e":0.32},{"q":6.185,"i":1.08,"e":0.32},{"q":6.195,"i":0.80,"e":0.32},
{"q":6.205,"i":1.29,"e":0.32},{"q":6.215,"i":0.49,"e":0.32},{"q":6.225,"i":1.55,"e":0.32},{"q":6.235,"i":0.97,"e":0.32},{"q":6.245,"i":0.81,"e":0.32},{"q":6.255,"i":1.13,"e":0.32},{"q":6.265,"i":1.65,"e":0.32},{"q":6.275,"i":0.75,"e":0.32},{"q":6.285,"i":0.91,"e":0.32},{"q":6.295,"i":1.33,"e":0.32},
{"q":6.305,"i":0.87,"e":0.33},{"q":6.315,"i":1.24,"e":0.33},{"q":6.325,"i":0.64,"e":0.33},{"q":6.335,"i":1.40,"e":0.33},{"q":6.345,"i":1.00,"e":0.33},{"q":6.355,"i":1.80,"e":0.33},{"q":6.365,"i":0.81,"e":0.33},{"q":6.375,"i":1.10,"e":0.33},{"q":6.385,"i":0.51,"e":0.33},{"q":6.395,"i":1.33,"e":0.33},
{"q":6.405,"i":0.77,"e":0.34},{"q":6.415,"i":1.37,"e":0.34},{"q":6.425,"i":0.60,"e":0.34},{"q":6.435,"i":1.17,"e":0.34},{"q":6.445,"i":1.51,"e":0.34},{"q":6.455,"i":0.87,"e":0.34},{"q":6.465,"i":1.00,"e":0.34},{"q":6.475,"i":1.95,"e":0.34},{"q":6.485,"i":0.70,"e":0.34},{"q":6.495,"i":1.24,"e":0.34},
{"q":6.505,"i":1.36,"e":0.35},{"q":6.515,"i":0.31,"e":0.3},{"q":6.525,"i":1.50,"e":0.35},{"q":6.535,"i":1.08,"e":0.35},{"q":6.545,"i":0.84,"e":0.35},{"q":6.555,"i":0.94,"e":0.35},{"q":6.565,"i":1.50,"e":0.35},{"q":6.575,"i":0.77,"e":0.35},{"q":6.585,"i":1.19,"e":0.35},{"q":6.595,"i":0.56,"e":0.35},
{"q":6.605,"i":1.39,"e":0.37},{"q":6.615,"i":0.99,"e":0.37},{"q":6.625,"i":1.61,"e":0.37},{"q":6.635,"i":0.92,"e":0.37},{"q":6.645,"i":0.74,"e":0.37},{"q":6.655,"i":1.32,"e":0.37},{"q":6.665,"i":1.17,"e":0.37},{"q":6.675,"i":0.37,"e":0.35},{"q":6.685,"i":1.50,"e":0.37},{"q":6.695,"i":0.84,"e":0.37},
{"q":6.705,"i":1.32,"e":0.38},{"q":6.715,"i":0.98,"e":0.38},{"q":6.725,"i":0.52,"e":0.38},{"q":6.735,"i":1.51,"e":0.38},{"q":6.745,"i":1.09,"e":0.38},{"q":6.755,"i":1.40,"e":0.38},{"q":6.765,"i":0.44,"e":0.38},{"q":6.775,"i":1.71,"e":0.38},{"q":6.785,"i":1.02,"e":0.38},{"q":6.795,"i":0.82,"e":0.38},
{"q":6.805,"i":0.55,"e":0.4},{"q":6.815,"i":1.44,"e":0.4},{"q":6.825,"i":1.12,"e":0.4},{"q":6.835,"i":1.93,"e":0.4},{"q":6.845,"i":0.72,"e":0.4},{"q":6.855,"i":0.92,"e":0.4},{"q":6.865,"i":1.36,"e":0.4},{"q":6.875,"i":0.64,"e":0.4},{"q":6.885,"i":1.56,"e":0.4},{"q":6.895,"i":1.08,"e":0.4},
{"q":6.905,"i":0.90,"e":0.43},{"q":6.915,"i":1.37,"e":0.43},{"q":6.925,"i":0.69,"e":0.43},{"q":6.935,"i":1.88,"e":0.43},{"q":6.945,"i":1.20,"e":0.43},{"q":6.955,"i":0.82,"e":0.43},{"q":6.965,"i":1.58,"e":0.43},{"q":6.975,"i":0.60,"e":0.43},{"q":6.985,"i":1.33,"e":0.43},{"q":6.995,"i":1.76,"e":0.43},
{"q":7.005,"i":0.86,"e":0.46},{"q":7.015,"i":1.33,"e":0.46},{"q":7.025,"i":2.07,"e":0.46},{"q":7.035,"i":0.79,"e":0.46},{"q":7.045,"i":1.03,"e":0.46},{"q":7.055,"i":1.64,"e":0.46},{"q":7.065,"i":0.27,"e":0.26},{"q":7.075,"i":1.84,"e":0.46},{"q":7.085,"i":1.30,"e":0.46},{"q":7.095,"i":0.98,"e":0.46},
{"q":7.105,"i":1.22,"e":0.52},{"q":7.115,"i":2.49,"e":0.52},{"q":7.125,"i":0.94,"e":0.52},{"q":7.135,"i":1.43,"e":0.52},{"q":7.145,"i":0.51,"e":0.49},{"q":7.155,"i":1.82,"e":0.52},{"q":7.165,"i":1.27,"e":0.52},{"q":7.175,"i":2.17,"e":0.52},{"q":7.185,"i":1.20,"e":0.52},{"q":7.195,"i":0.95,"e":0.52},
{"q":7.205,"i":2.35,"e":0.66},{"q":7.215,"i":1.13,"e":0.66},{"q":7.225,"i":1.42,"e":0.66},{"q":7.235,"i":3.30,"e":0.66},{"q":7.245,"i":0.89,"e":0.66},{"q":7.255,"i":1.98,"e":0.66},{"q":7.265,"i":1.41,"e":0.66},{"q":7.275,"i":0.65,"e":0.62},{"q":7.285,"i":2.40,"e":0.66},{"q":7.295,"i":1.70,"e":0.66},
{"q":7.305,"i":1.39,"e":0.95},{"q":7.315,"i":1.77,"e":0.95},{"q":7.325,"i":3.39,"e":0.95}
],
"red":[
{"q":7.19,"i":0.43},{"q":7.24,"i":0.215},{"q":7.28,"i":0.69},{"q":7.29,"i":0.76},{"q":7.30,"i":0.81},{"q":7.32,"i":1.70},{"q":7.32,"i":1.35},{"q":7.33,"i":3.47},{"q":7.32,"i":0.23}
],
"pre":[
{"q":0.012,"i":990},{"q":0.022,"i":986}
]
},
"encoding":{
"x":{"field":"q","type":"quantitative","scale":{"domain":[0,7.34],"nice":false,"zero":false},"axis":{"values":[0,1,2,3,4,5,6,7],"title":null,"labelPadding":18,"labelFlush":false}},
"y":{"field":"i","type":"quantitative","scale":{"type":"log","domain":[0.204,1995],"nice":false,"clamp":true},"axis":{"values":[1,10,100,1000],"labels":false,"title":null}}
},
"layer":[
{"data":{"name":"d"},"mark":{"type":"errorbar","ticks":false,"color":"#c8d6ef","thickness":1.8},"encoding":{"yError":{"field":"e"}}},
{"data":{"name":"pre"},"mark":{"type":"circle","size":14,"color":"#b8cae9","opacity":1}},
{"data":{"name":"d"},"mark":{"type":"circle","size":13,"color":"#3a67b7","opacity":1}},
{"data":{"name":"red"},"mark":{"type":"circle","size":13,"color":"#e8282d","opacity":1}}
]
}
